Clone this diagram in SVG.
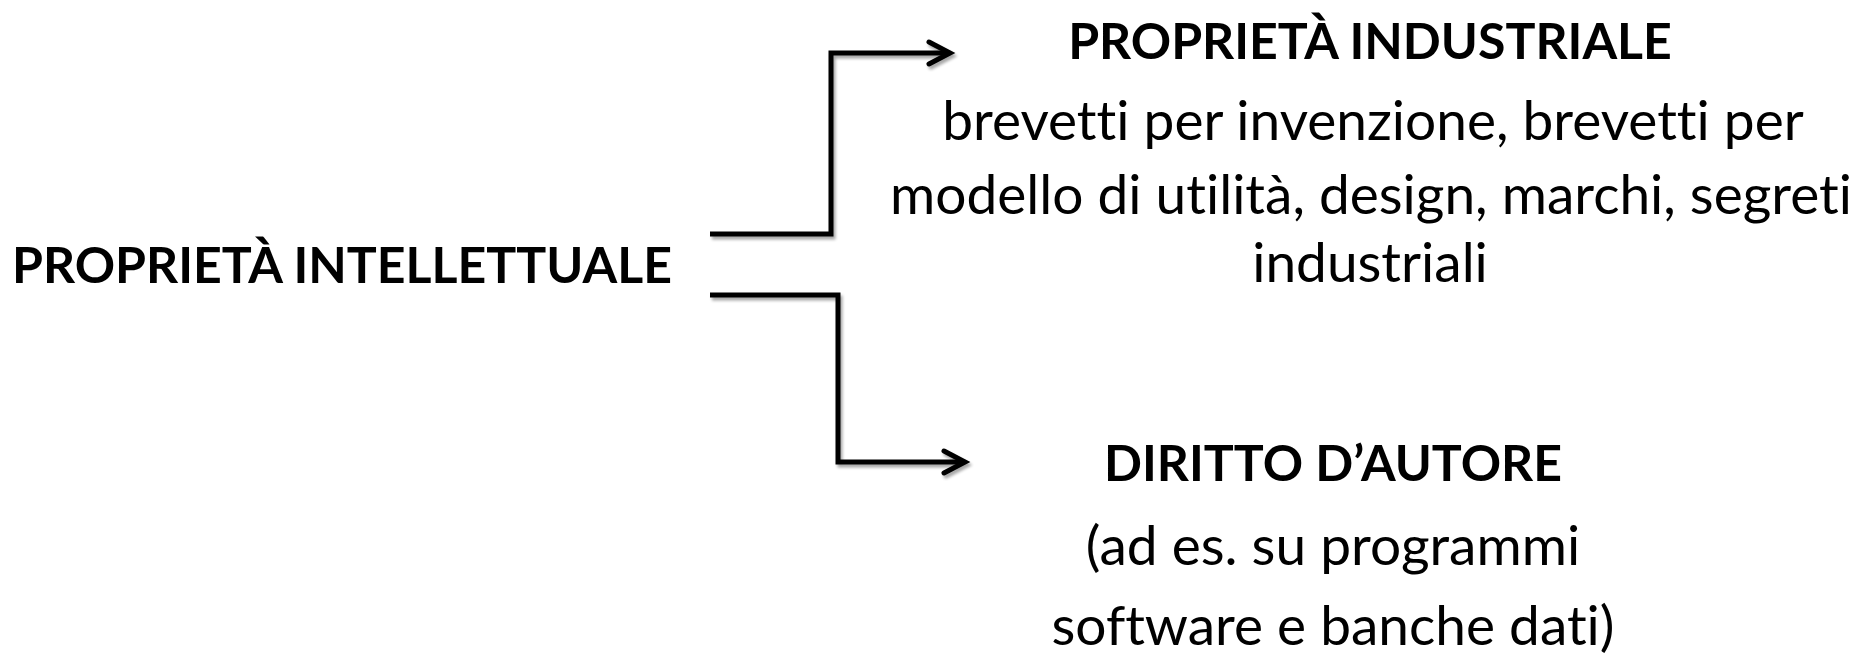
<svg xmlns="http://www.w3.org/2000/svg" width="1864" height="656" viewBox="0 0 1864 656">
<style>
.t{font-family:Lato,"Open Sans","Liberation Sans",sans-serif;fill:#000;text-anchor:middle;font-variant-ligatures:none;font-feature-settings:"liga" 0}
.b{font-weight:bold;font-size:50px}
.r{font-size:55px}
.c{fill:none;stroke:#000;stroke-width:5;stroke-linejoin:miter;stroke-linecap:butt}
.h{fill:none;stroke:#000;stroke-width:5;stroke-linecap:round;stroke-linejoin:miter}
</style>
<defs>
<filter id="sh" x="-10%" y="-10%" width="130%" height="130%">
<feGaussianBlur in="SourceAlpha" stdDeviation="1.5"/>
<feOffset dx="2" dy="3" result="o"/>
<feComponentTransfer><feFuncA type="linear" slope="0.35"/></feComponentTransfer>
<feMerge><feMergeNode/><feMergeNode in="SourceGraphic"/></feMerge>
</filter>
</defs>
<rect width="1864" height="656" fill="#fff"/>
<g id="connectors" filter="url(#sh)">
<path class="c" d="M710,234 H831 V53 H947"/>
<path class="h" d="M929,42 L950,53 L929,64"/>
<path class="c" d="M710,295 H838 V462 H962"/>
<path class="h" d="M944,451 L965,462 L944,473"/>
</g>
<g id="node-intellettuale">
<text class="t b" x="342" y="283">PROPRIETÀ INTELLETTUALE</text>
</g>
<g id="node-industriale">
<text class="t b" x="1370" y="59">PROPRIETÀ INDUSTRIALE</text>
<text class="t r" x="1373" y="140">brevetti per invenzione, brevetti per</text>
<text class="t r" x="1371" y="214">modello di utilità, design, marchi, segreti</text>
<text class="t r" x="1370" y="282">industriali</text>
</g>
<g id="node-autore">
<text class="t b" x="1333" y="481">DIRITTO D’AUTORE</text>
<text class="t r" x="1333" y="565">(ad es. su programmi</text>
<text class="t r" x="1333" y="645">software e banche dati)</text>
</g>
</svg>
